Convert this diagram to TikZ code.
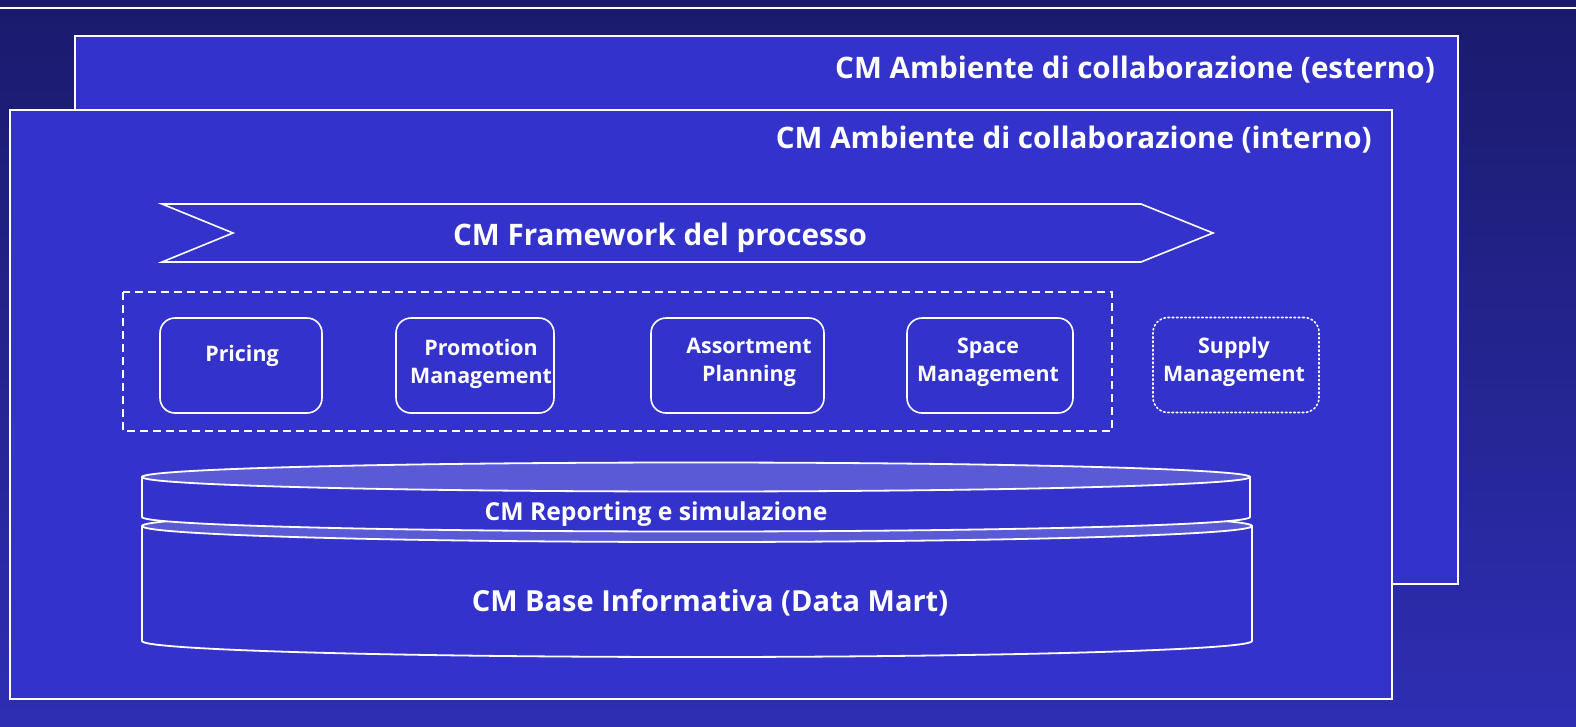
\documentclass[tikz,border=0pt]{standalone}
\usepackage{fontspec}
\setmainfont{Open Sans}
\usetikzlibrary{positioning}

\definecolor{navytop}{HTML}{1A1A6C}
\definecolor{navybottom}{HTML}{2E2EB4}
\definecolor{panelblue}{HTML}{3333CC}
\definecolor{disctop}{HTML}{5A5AD6}

\tikzset{
	panel/.style = {fill = panelblue, draw = white, line width = 1.6pt},
	title/.style = {text = white, font = \bfseries\fontsize{29.6}{34}\selectfont, inner sep = 0pt},
	modbox/.style = {draw = white, line width = 1.6pt, rounded corners = 15pt, minimum height = 95pt, inner sep = 0pt},
	modtext/.style = {text = white, font = \bfseries\fontsize{21.4}{28}\selectfont, align = center, inner sep = 0pt},
	discline/.style = {draw = white, line width = 1.8pt}
}

\begin{document}
\begin{tikzpicture}[x = 1pt, y = -1pt]

	% Background

	\useasboundingbox (0, 0) rectangle (1576, 726);
	\shade [top color = navytop, bottom color = navybottom] (0, 0) rectangle (1576, 726);
	\draw [white, line width = 1.2pt] (0, 8) -- (1576, 8);

	% Collaboration environments

	\draw [panel] (75, 36) rectangle (1458, 584);
	\node [title, anchor = east] (esterno) at (1435, 69.5) {CM Ambiente di collaborazione (esterno)};

	\draw [panel] (10, 110) rectangle (1392, 699);
	\node [title, anchor = east] (interno) at (1372, 139.5) {CM Ambiente di collaborazione (interno)};

	% Process framework

	\draw [white, line width = 1.6pt] (162, 204) -- (1141, 204) -- (1213, 233) -- (1141, 262) -- (162, 262) -- (233, 233) -- cycle;
	\node [title] (framework) at (660, 238) {CM Framework del processo};

	% Modules

	\draw [white, line width = 1.4pt, dash pattern = on 8pt off 5pt] (123, 292) rectangle (1112, 431);

	\node [modbox, minimum width = 162pt] (pricing) at (241, 365.5) {};
	\node [modtext] (pricingtext) at ([xshift = 1pt, yshift = 10pt] pricing.center) {Pricing};

	\node [modbox, minimum width = 158pt] (promotion) at (475, 365.5) {};
	\node [modtext] (promotiontext) at ([xshift = 6pt, yshift = 2pt] promotion.center) {Promotion\\Management};

	\node [modbox, minimum width = 173pt] (assortment) at (737.5, 365.5) {};
	\node [modtext] (assortmenttext) at ([xshift = 11.5pt, yshift = 3pt] assortment.center) {Assortment\\Planning};

	\node [modbox, minimum width = 166pt] (space) at (990, 365.5) {};
	\node [modtext] (spacetext) at ([xshift = -2pt, yshift = 3pt] space.center) {Space\\Management};

	\node [modbox, minimum width = 166pt, dash pattern = on 1.6pt off 2.6pt, line cap = round] (supply) at (1236, 365) {};
	\node [modtext] (supplytext) at ([xshift = -2pt, yshift = 3.5pt] supply.center) {Supply\\Management};

	% Data mart (lower disc)

	\fill [panelblue] (142, 526) -- (142, 641) arc [start angle = 180, end angle = 0, x radius = 555, y radius = 16] -- (1252, 526) -- cycle;
	\draw [discline] (142, 526) -- (142, 641) arc [start angle = 180, end angle = 0, x radius = 555, y radius = 16] -- (1252, 526);
	\draw [discline, fill = disctop] (697, 526) ellipse [x radius = 555, y radius = 16];

	% Reporting (upper disc)

	\fill [panelblue] (142, 477) -- (142, 517) arc [start angle = 180, end angle = 0, x radius = 554, y radius = 14.5] -- (1250, 477) -- cycle;
	\draw [discline] (142, 477) -- (142, 517) arc [start angle = 180, end angle = 0, x radius = 554, y radius = 14.5] -- (1250, 477);
	\draw [discline, fill = disctop] (696, 477) ellipse [x radius = 554, y radius = 14.5];

	% Labels

	\node [title, font = \bfseries\fontsize{24.7}{29}\selectfont] (reporting) at (656, 514.5) {CM Reporting e simulazione};
	\node [title, font = \bfseries\fontsize{29}{34}\selectfont] (datamart) at (710, 602.5) {CM Base Informativa (Data Mart)};

\end{tikzpicture}
\end{document}
